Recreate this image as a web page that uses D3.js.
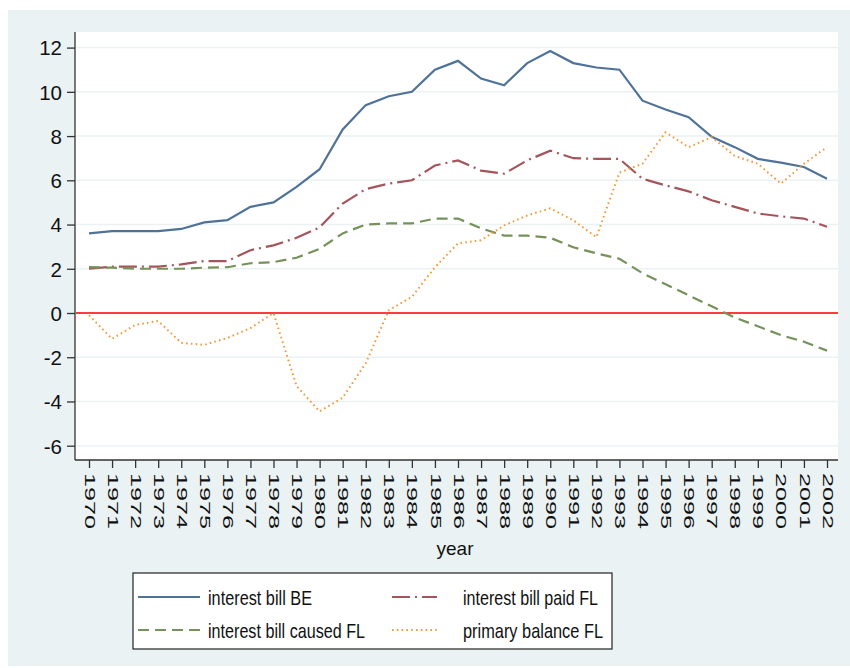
<!DOCTYPE html>
<html>
<head>
<meta charset="utf-8">
<script src="https://cdn.jsdelivr.net/npm/d3@7"></script>
<style>
  body { margin: 0; background: #fff; }
  svg text { font-family: "Liberation Sans", Arial, sans-serif; fill: #111; }
</style>
</head>
<body>
<svg id="chart" width="850" height="668"></svg>
<script>
const years = d3.range(1970, 2003);
const billBE = [3.6, 3.7, 3.7, 3.7, 3.8, 4.1, 4.2, 4.8, 5.0, 5.7, 6.5, 8.3, 9.4, 9.8, 10.0, 11.0, 11.4,
  10.6, 10.3, 11.3, 11.85, 11.3, 11.1, 11.0, 9.6, 9.2, 8.85, 7.97, 7.5, 6.97, 6.8, 6.6, 6.07];
const billPaidFL = [2.0, 2.1, 2.1, 2.1, 2.2, 2.35, 2.35, 2.84, 3.06, 3.4, 3.87, 4.95, 5.6, 5.85, 6.0, 6.67, 6.9,
  6.44, 6.3, 6.9, 7.34, 7.0, 6.97, 6.97, 6.07, 5.77, 5.5, 5.1, 4.8, 4.5, 4.37, 4.27, 3.9];
const billCausedFL = [2.07, 2.05, 2.0, 2.0, 2.0, 2.05, 2.07, 2.25, 2.3, 2.5, 2.9, 3.6, 4.0, 4.05, 4.05, 4.27, 4.27,
  3.83, 3.5, 3.5, 3.4, 2.97, 2.7, 2.45, 1.8, 1.3, 0.8, 0.3, -0.2, -0.6, -1.0, -1.3, -1.7];
const primaryFL = [-0.1, -1.17, -0.54, -0.36, -1.35, -1.44, -1.13, -0.68, 0.0, -3.3, -4.45, -3.83, -2.27, 0.13, 0.73,
  2.07, 3.15, 3.29, 3.96, 4.41, 4.73, 4.19, 3.43, 6.35, 6.75, 8.17, 7.5, 7.95, 7.1, 6.75, 5.85, 6.75, 7.5];
const yTicks = [-6, -4, -2, 0, 2, 4, 6, 8, 10, 12];

const series = [
  { name: "interest bill BE", values: billBE, color: "#4f7299", dash: null },
  { name: "interest bill paid FL", values: billPaidFL, color: "#a5545c", dash: "18,5,2,5" },
  { name: "interest bill caused FL", values: billCausedFL, color: "#76925a", dash: "11,6" },
  { name: "primary balance FL", values: primaryFL, color: "#f29a3a", dash: "1.6,3.2" }
];

const svg = d3.select("#chart");

// outer panel
svg.append("rect").attr("x", 8).attr("y", 10).attr("width", 842).attr("height", 656).attr("fill", "#eaf2f3");
// plot region
const plot = { left: 75, right: 838, top: 32, bottom: 460 };
svg.append("rect").attr("x", plot.left).attr("y", plot.top)
  .attr("width", plot.right - plot.left).attr("height", plot.bottom - plot.top).attr("fill", "#fff");

const x = d3.scaleLinear().domain([1970, 2002]).range([89, 827]);
const y = d3.scaleLinear().domain([0, 12]).range([313, 47.6]);

// gridlines
svg.append("g").selectAll("line").data(yTicks).enter().append("line")
  .attr("x1", plot.left + 1).attr("x2", plot.right)
  .attr("y1", d => y(d)).attr("y2", d => y(d))
  .attr("stroke", "#eaf2f3").attr("stroke-width", 1.5);

// y axis
const yAxis = svg.append("g").attr("transform", `translate(${plot.left},0)`)
  .call(d3.axisLeft(y).tickValues(yTicks).tickSize(8).tickPadding(5).tickFormat(d => String(d)));
yAxis.select(".domain").attr("d", `M0,${plot.top}V${plot.bottom}`).attr("stroke", "#333").attr("stroke-width", 1.3);
yAxis.selectAll(".tick line").attr("stroke", "#333").attr("stroke-width", 1.3);
yAxis.selectAll(".tick text").attr("font-size", 20.5).attr("fill", "#111").attr("dy", "0.36em")
  .attr("font-family", "Liberation Sans, Arial, sans-serif");

// x axis
const xAxis = svg.append("g").attr("transform", `translate(0,${plot.bottom})`)
  .call(d3.axisBottom(x).tickValues(years).tickSize(8).tickFormat(d => String(d)));
xAxis.select(".domain").attr("d", `M${plot.left},0H${plot.right}`).attr("stroke", "#333").attr("stroke-width", 1.3);
xAxis.selectAll(".tick line").attr("stroke", "#333").attr("stroke-width", 1.3);
xAxis.selectAll(".tick text")
  .attr("font-size", 14).attr("fill", "#111")
  .attr("font-family", "Liberation Sans, Arial, sans-serif")
  .attr("text-anchor", "start")
  .attr("textLength", 56).attr("lengthAdjust", "spacingAndGlyphs")
  .attr("transform", "translate(0,13) rotate(90)")
  .attr("x", 0).attr("y", 0).attr("dy", "0.35em");

svg.append("text").attr("x", 455).attr("y", 555).attr("text-anchor", "middle")
  .attr("font-size", 19).text("year");

// zero line
svg.append("line").attr("x1", plot.left + 1).attr("x2", plot.right)
  .attr("y1", y(0)).attr("y2", y(0)).attr("stroke", "#ff3b3b").attr("stroke-width", 2.2);

// series
const line = d3.line().x((d, i) => x(years[i])).y(d => y(d));
svg.append("g").selectAll("path").data(series).enter().append("path")
  .attr("d", d => line(d.values))
  .attr("fill", "none")
  .attr("stroke", d => d.color)
  .attr("stroke-width", d => d.dash === "1.6,3.2" ? 2 : 2.2)
  .attr("stroke-dasharray", d => d.dash);

// legend
const lg = svg.append("g");
lg.append("rect").attr("x", 133).attr("y", 573).attr("width", 479).attr("height", 76)
  .attr("fill", "#fff").attr("stroke", "#222").attr("stroke-width", 1.2);
const legendPos = [
  { lx: 138, ly: 597 }, { lx: 392, ly: 597 },
  { lx: 138, ly: 630 }, { lx: 392, ly: 630 }
];
const legendW = [62, 45, 62, 45];
const textLen = [104, 135, 157, 140];
const entries = lg.selectAll("g.entry").data(series).enter().append("g").attr("class", "entry")
  .attr("transform", (d, i) => `translate(${legendPos[i].lx},${legendPos[i].ly})`);
entries.append("line").attr("x1", 0).attr("x2", (d, i) => legendW[i])
  .attr("stroke", d => d.color).attr("stroke-width", 2)
  .attr("stroke-dasharray", d => d.dash);
entries.append("text").attr("x", (d, i) => i % 2 === 0 ? 70 : 71).attr("dy", "0.36em")
  .attr("font-size", 21).attr("textLength", (d, i) => textLen[i]).attr("lengthAdjust", "spacingAndGlyphs")
  .text(d => d.name);
</script>
</body>
</html>
